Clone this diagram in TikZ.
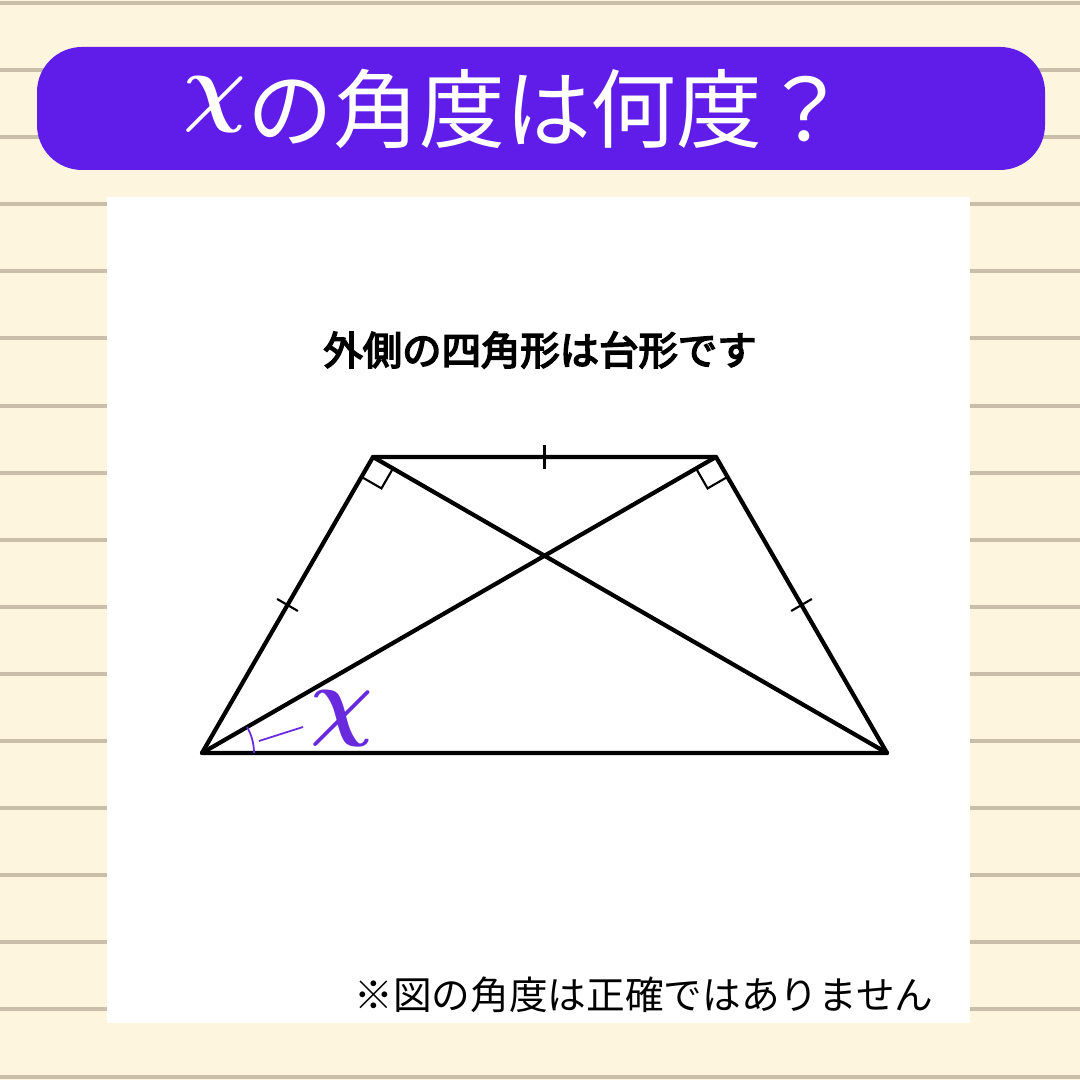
\documentclass[tikz,border=0pt]{standalone}
\usepackage{amsmath}
\usepackage{fontspec}
\newfontfamily\jpfont{Noto Sans CJK JP}
\newfontfamily\jpmid[FakeBold=4]{Noto Sans CJK JP}
\usetikzlibrary{calc}
\definecolor{paper}{RGB}{254,245,223}
\definecolor{rule}{RGB}{200,190,170}
\definecolor{banner}{RGB}{96,28,232}
\definecolor{anglecol}{RGB}{104,42,220}
\tikzset{
	side/.style={line width=1.2pt, line join=round, line cap=round},
	tick/.style={line width=0.6pt},
	rightmark/.style={line width=0.6pt},
	anglemark/.style={anglecol, line width=0.5pt}
}

\begin{document}
\begin{tikzpicture}[x=0.01cm, y=0.01cm]
				\fill[paper] (0,0) rectangle (1080,1080);
				\useasboundingbox (0,0) rectangle (1080,1080);
				
				\foreach \k in {0,...,16}
					\fill[rule] (0, {1080-3-67.1*\k-2}) rectangle (1080, {1080-3-67.1*\k+2});
				
				\fill[banner, rounded corners=0.45cm] (37,910) rectangle (1045,1033);
				\node[white, inner sep=0] (chi) at (215,975) {\fontsize{31}{31}\selectfont$\boldsymbol{\chi}$};
				\node[white, inner sep=0, anchor=base west] (title) at (247,938) {\jpfont\fontsize{24.4}{24.4}\selectfont の角度は何度？};
				
				\fill[white] (107,57) rectangle (970,883);
				
				\node[inner sep=0] (sub) at (540,730) {\jpmid\fontsize{11.2}{11.2}\selectfont 外側の四角形は台形です};
				\node[inner sep=0] (note) at (644,85) {\jpfont\fontsize{11}{11}\selectfont ※図の角度は正確ではありません};
				
				\coordinate (A) at (202,327);
				\coordinate (B) at (887,327);
				\coordinate (C) at (716,623);
				\coordinate (D) at (373,623);
				
				\draw[side] (A) -- (B) -- (C) -- (D) -- cycle;
				\draw[side] (A) -- (C);
				\draw[side] (B) -- (D);
				
				\coordinate (d1) at ($(D)!0.23cm!(A)$);
				\coordinate (d2) at ($(D)!0.23cm!(B)$);
				\draw[rightmark] (d1) -- ($(d1)+(d2)-(D)$) -- (d2);
				\coordinate (c1) at ($(C)!0.23cm!(B)$);
				\coordinate (c2) at ($(C)!0.23cm!(A)$);
				\draw[rightmark] (c1) -- ($(c1)+(c2)-(C)$) -- (c2);
				
				\draw[tick] ($(D)!0.5!(C)!0.12cm!90:(C)$) -- ($(D)!0.5!(C)!0.12cm!-90:(C)$);
				\draw[tick] ($(A)!0.5!(D)!0.12cm!90:(D)$) -- ($(A)!0.5!(D)!0.12cm!-90:(D)$);
				\draw[tick] ($(B)!0.5!(C)!0.12cm!90:(C)$) -- ($(B)!0.5!(C)!0.12cm!-90:(C)$);
				
				\draw[anglemark] ($(A)+(52,0)$) arc (0:30:52);
				\coordinate (lead1) at (259,339);
				\coordinate (lead2) at (303,353);
				\draw[anglemark] (lead1) -- (lead2);
				\node[anglecol, inner sep=0] (x) at (342,361) {\fontsize{24.4}{24.4}\selectfont$\boldsymbol{\chi}$};
			\end{tikzpicture}
\end{document}
